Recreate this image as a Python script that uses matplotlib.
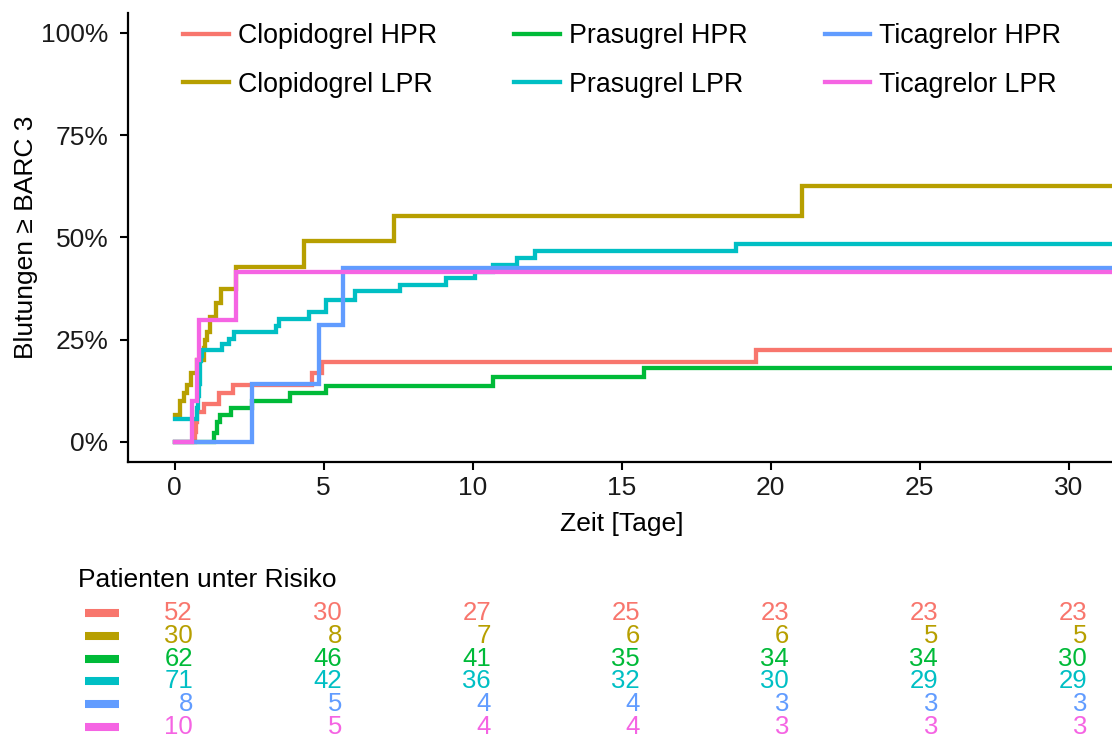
import matplotlib
matplotlib.use('Agg')
import matplotlib.pyplot as plt
from matplotlib.lines import Line2D
from matplotlib.ticker import FuncFormatter, FixedLocator
import matplotlib.transforms as mtransforms

plt.rcParams['font.family'] = ['Liberation Sans', 'DejaVu Sans']

# ---------------- data ----------------
groups = ['Clopidogrel HPR', 'Clopidogrel LPR', 'Prasugrel HPR',
          'Prasugrel LPR', 'Ticagrelor HPR', 'Ticagrelor LPR']
colors = ['#F8766D', '#B79F00', '#00BA38', '#00BFC4', '#619CFF', '#F564E3']

# cumulative incidence (%) step curves: event times (days) and level after step
clop_hpr_t = [0, 0.70, 0.73, 0.76, 0.98, 1.48, 1.95, 4.60, 4.95, 19.5]
clop_hpr_y = [0, 2.5, 5.0, 7.4, 9.2, 11.9, 14.0, 16.9, 19.5, 22.6]

clop_lpr_t = [0, 0.20, 0.32, 0.43, 0.54, 0.75, 0.98, 1.02, 1.08, 1.20, 1.38, 1.55, 2.05, 4.35, 7.35, 21.05]
clop_lpr_y = [6.7, 10.0, 12.0, 14.0, 16.8, 20.0, 23.0, 25.0, 27.0, 30.5, 34.0, 37.5, 42.9, 49.1, 55.3, 62.5]

pras_hpr_t = [0, 1.32, 1.43, 1.54, 1.88, 2.60, 3.89, 5.07, 10.7, 15.75]
pras_hpr_y = [0, 2.2, 5.0, 6.6, 8.2, 10.1, 11.9, 13.7, 15.8, 18.0]

pras_lpr_t = [0, 0.65, 0.75, 0.78, 0.81, 0.84, 0.87, 0.90, 0.93, 1.60, 1.82, 2.00, 3.40, 3.50,
              4.50, 5.07, 6.07, 7.57, 9.10, 10.1, 10.7, 11.5, 12.1, 18.85]
pras_lpr_y = [5.6, 5.6, 8.4, 11.3, 14.1, 16.9, 19.7, 21.1, 22.5, 23.9, 25.3, 26.8, 28.3, 30.0,
              31.8, 34.6, 36.8, 38.4, 40.1, 41.5, 43.2, 45.0, 46.8, 48.3]

tica_hpr_t = [0, 2.60, 4.84, 5.66]
tica_hpr_y = [0, 14.2, 28.5, 42.6]

tica_lpr_t = [0, 0.60, 0.74, 0.82, 2.05]
tica_lpr_y = [0, 10.0, 20.0, 29.8, 41.5]

follow_up_end = 32.0

curves_t = [clop_hpr_t, clop_lpr_t, pras_hpr_t, pras_lpr_t, tica_hpr_t, tica_lpr_t]
curves_y = [clop_hpr_y, clop_lpr_y, pras_hpr_y, pras_lpr_y, tica_hpr_y, tica_lpr_y]

# numbers at risk
risk_times = [0, 5, 10, 15, 20, 25, 30]
risk_clop_hpr = [52, 30, 27, 25, 23, 23, 23]
risk_clop_lpr = [30, 8, 7, 6, 6, 5, 5]
risk_pras_hpr = [62, 46, 41, 35, 34, 34, 30]
risk_pras_lpr = [71, 42, 36, 32, 30, 29, 29]
risk_tica_hpr = [8, 5, 4, 4, 3, 3, 3]
risk_tica_lpr = [10, 5, 4, 4, 3, 3, 3]
risk_rows = [risk_clop_hpr, risk_clop_lpr, risk_pras_hpr,
             risk_pras_lpr, risk_tica_hpr, risk_tica_lpr]

x_ticks = [0, 5, 10, 15, 20, 25, 30]
y_ticks = [0, 25, 50, 75, 100]

# ---------------- layout ----------------
W, H = 1112, 740
fig = plt.figure(figsize=(W / 100, H / 100), dpi=100)


def fx(px):
    return px / W


def fy(py):
    return 1 - py / H


ax_l, ax_r, ax_t, ax_b = 128, 1112, 13, 462
ax = fig.add_axes([fx(ax_l), fy(ax_b), fx(ax_r) - fx(ax_l), fy(ax_t) - fy(ax_b)])

x0_px, px_per_day = 174.5, 29.8
y0_px, px_per_pct = 442.0, 4.09
ax.set_xlim((ax_l - x0_px) / px_per_day, (ax_r - x0_px) / px_per_day)
ax.set_ylim(-(ax_b - y0_px) / px_per_pct, (y0_px - ax_t) / px_per_pct)

lw = 3.1
for t, y, c in zip(curves_t, curves_y, colors):
    tt = list(t) + [follow_up_end]
    yy = list(y) + [y[-1]]
    ax.plot(tt, yy, drawstyle='steps-post', color=c, lw=lw,
            solid_joinstyle='miter', clip_on=True)

for side in ['top', 'right']:
    ax.spines[side].set_visible(False)
for side in ['left', 'bottom']:
    ax.spines[side].set_linewidth(1.6)
    ax.spines[side].set_color('black')

ax.xaxis.set_major_locator(FixedLocator(x_ticks))
ax.yaxis.set_major_locator(FixedLocator(y_ticks))
ax.yaxis.set_major_formatter(FuncFormatter(lambda v, p: f'{v:.0f}%'))
ax.tick_params(axis='both', length=5.5, width=1.5, color='black',
               labelsize=19, labelcolor='#1a1a1a')
ax.tick_params(axis='x', pad=4.5)
ax.tick_params(axis='y', pad=8.5)

# axis titles
fig.text(fx(26), fy(237), 'Blutungen \u2265 BARC 3', rotation=90,
         ha='center', va='center', fontsize=19)
fig.text(fx(622), fy(531), 'Zeit [Tage]', ha='center', va='baseline', fontsize=19)

# legend
handles = [Line2D([], [], color=c, lw=lw) for c in colors]
fig.legend(handles, groups, loc='upper left',
           bbox_to_anchor=(fx(183), fy(23)), bbox_transform=fig.transFigure,
           ncol=3, frameon=False, fontsize=19.3, handlelength=1.7,
           handletextpad=0.34, columnspacing=2.88, labelspacing=0.85,
           borderpad=0, borderaxespad=0)

# ---------------- risk table ----------------
fig.text(fx(78), fy(587), 'Patienten unter Risiko', ha='left', va='baseline', fontsize=19)
row_y = [611 + 22.8 * i for i in range(6)]
trans = mtransforms.blended_transform_factory(ax.transData, fig.transFigure)
for r, (vals, c) in enumerate(zip(risk_rows, colors)):
    yb = row_y[r]
    fig.add_artist(Line2D([fx(85), fx(119)], [fy(yb + 2), fy(yb + 2)],
                          transform=fig.transFigure, color=c, lw=5.8,
                          solid_capstyle='butt'))
    for t, v in zip(risk_times, vals):
        ax.text(t + 0.62, fy(yb + 9.0), str(v), transform=trans, ha='right',
                va='baseline', fontsize=18.5, color=c, clip_on=False)

fig.savefig('out.png', dpi=100)
